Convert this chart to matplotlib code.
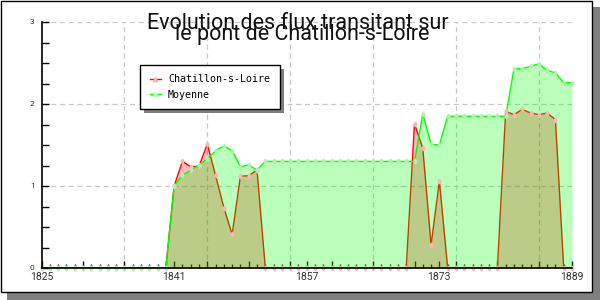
import matplotlib
matplotlib.use("Agg")
import matplotlib.pyplot as plt
from matplotlib.patches import Rectangle
from matplotlib.lines import Line2D
from matplotlib.ticker import FixedLocator, MultipleLocator, FuncFormatter

years = list(range(1825, 1890))
chatillon = [0]*16 + [1.00, 1.30, 1.235, 1.24, 1.51, 1.13, 0.735, 0.41, 1.12, 1.125, 1.195] \
    + [0]*18 + [1.76, 1.46, 0.28, 1.06] + [0]*7 \
    + [1.91, 1.87, 1.935, 1.89, 1.87, 1.89, 1.81, 0, 0]
moyenne = [0]*16 + [1.00, 1.13, 1.19, 1.26, 1.33, 1.43, 1.49, 1.43, 1.235, 1.255, 1.195] \
    + [1.30]*19 + [1.88, 1.51, 1.50] + [1.85]*8 \
    + [2.43, 2.43, 2.46, 2.49, 2.41, 2.38, 2.26, 2.26]
label_years = [1825, 1841, 1857, 1873, 1889]
series_names = ["Chatillon-s-Loire", "Moyenne"]
title1 = "Evolution des flux transitant sur"
title2 = "le pont de Chatillon-s-Loire"

NARROW = ["Liberation Sans Narrow", "Roboto", "DejaVu Sans"]

fig = plt.figure(figsize=(6, 3), dpi=100)
fig.patch.set_facecolor("white")

# figure frame with drop shadow
fig.patches.append(Rectangle((7/600, 0), 593/600, 8/300, transform=fig.transFigure,
                             facecolor="#808080", edgecolor="none", zorder=-3))
fig.patches.append(Rectangle((592/600, 0), 8/600, 293/300, transform=fig.transFigure,
                             facecolor="#808080", edgecolor="none", zorder=-3))
fig.patches.append(Rectangle((0.5/600, 8/300), 591.5/600, 291.5/300, transform=fig.transFigure,
                             facecolor="white", edgecolor="black", linewidth=1.0, zorder=-2))

ax = fig.add_axes([41.5/600, 32/300, 530.5/600, 246/300])
ax.set_facecolor("none")
ax.set_zorder(1)

# red series
ax.fill_between(years, 0, chatillon, color="#ff0000", alpha=0.27, linewidth=0, zorder=2)
ax.plot(years, chatillon, color="#ff0000", linewidth=1.0, zorder=2.1)
# green series
ax.fill_between(years, 0, moyenne, color="#00ff00", alpha=0.27, linewidth=0, zorder=3)
ax.plot(years, moyenne, color="#00ff00", linewidth=1.0, zorder=3.1)
# markers
ax.plot(years, chatillon, linestyle="none", marker="d", markersize=2.5,
        markerfacecolor="#ffb4b4", markeredgecolor="#ffb4b4", clip_on=False, zorder=3.5)
ax.plot(years, moyenne, linestyle="none", marker="d", markersize=2.5,
        markerfacecolor="#b0f0b0", markeredgecolor="#b0f0b0", clip_on=False, zorder=3.6)

ax.set_xlim(1825, 1889)
ax.set_ylim(0, 3)

# grid (dashed) at every 10 years and integer values
for gx in range(1835, 1889, 10):
    ax.axvline(gx, ymin=0, ymax=1, color="#c8c8c8", linestyle=(0, (4, 3)), linewidth=0.9, zorder=1)
for gy in [1, 2, 3]:
    ax.axhline(gy, color="#c8c8c8", linestyle=(0, (4, 3)), linewidth=0.9, zorder=1)

for s in ["top", "right"]:
    ax.spines[s].set_visible(False)
for s in ["left", "bottom"]:
    ax.spines[s].set_linewidth(1.2)
    ax.spines[s].set_zorder(5)

major_x = sorted(set(range(1825, 1890, 5)) | set(label_years))
ax.xaxis.set_major_locator(FixedLocator(major_x))
ax.xaxis.set_major_formatter(FuncFormatter(lambda v, p: str(int(round(v))) if int(round(v)) in label_years else ""))
ax.xaxis.set_minor_locator(MultipleLocator(1))
ax.tick_params(axis="x", which="major", direction="in", length=5, width=1, pad=3,
               labelsize=7.5, color="black")
ax.tick_params(axis="x", which="minor", direction="in", length=3, width=1, color="black")
for t in ax.get_xticklabels():
    t.set_fontfamily(NARROW)
    t.set_color("#333333")

ax.yaxis.set_major_locator(FixedLocator([0, 1, 2, 3]))
ax.yaxis.set_major_formatter(FuncFormatter(lambda v, p: str(int(round(v)))))
ax.yaxis.set_minor_locator(MultipleLocator(0.25))
ax.tick_params(axis="y", which="both", direction="in", length=5, width=1, pad=5,
               labelsize=6, color="black")
for t in ax.get_yticklabels():
    t.set_fontfamily(NARROW)
    t.set_color("#333333")

# title (two overlapping lines)
fig.text(298/600, 1 - 29/300, title1, ha="center", va="baseline", fontsize=15.5,
         family=NARROW, color="#111111", zorder=6)
fig.text(302/600, 1 - 40/300, title2, ha="center", va="baseline", fontsize=15.5,
         family=NARROW, color="#111111", zorder=6)

# legend
handles = [Line2D([], [], color="#ff0000", lw=1, marker="^", markersize=3,
                  markerfacecolor="#ffb0b0", markeredgecolor="#ffb0b0"),
           Line2D([], [], color="#00ff00", lw=1, marker="^", markersize=3,
                  markerfacecolor="#b0ffb0", markeredgecolor="#b0ffb0")]
leg = fig.legend(handles, series_names, loc="upper left",
                 bbox_to_anchor=(140/600, 1 - 65/300), bbox_transform=fig.transFigure,
                 prop={"family": ["DejaVu Sans Mono"], "size": 7.2},
                 frameon=True, fancybox=False, framealpha=1, edgecolor="black",
                 borderpad=0.95, handlelength=1.1, handletextpad=0.75, labelspacing=0.5,
                 borderaxespad=0)
leg.get_frame().set_linewidth(1.0)
leg.set_zorder(10)

fig.canvas.draw()
bb = leg.get_window_extent()
inv = fig.transFigure.inverted()
(x0, y0), (x1, y1) = inv.transform([(bb.x0, bb.y0), (bb.x1, bb.y1)])
fig.patches.append(Rectangle((x0 + 4/600, y0 - 4/300), x1 - x0, y1 - y0, transform=fig.transFigure,
                             facecolor="#808080", edgecolor="none", zorder=9))

fig.savefig("out.png", dpi=100)
